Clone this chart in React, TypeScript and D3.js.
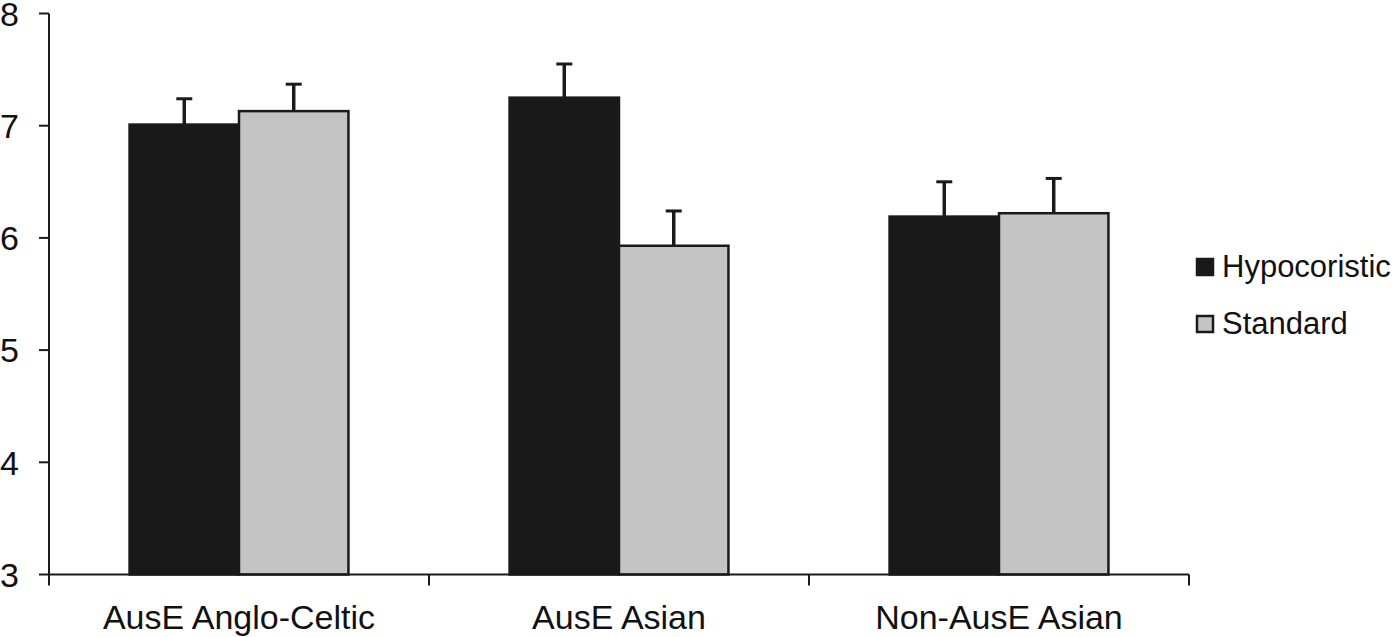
import { scaleBand, scaleLinear } from "d3";

const categories = ["AusE Anglo-Celtic", "AusE Asian", "Non-AusE Asian"];
const seriesNames = ["Hypocoristic", "Standard"];
const hypocoristic = [7.01, 7.25, 6.19];
const hypocoristicErr = [0.23, 0.3, 0.31];
const standard = [7.13, 5.93, 6.22];
const standardErr = [0.24, 0.31, 0.31];
const yTicks = [3, 4, 5, 6, 7, 8];

const fills = ["#191919", "#c4c4c4"];
const ink = "#1a1a1a";
const font = "'Liberation Sans', Arial, Helvetica, sans-serif";

const W = 1396;
const H = 637;

export default function App() {
  const x = scaleBand<string>().domain(categories).range([49, 1189]).paddingInner(0.424).paddingOuter(0.212);
  const sub = scaleBand<string>().domain(seriesNames).range([0, x.bandwidth()]);
  const y = scaleLinear().domain([3, 8]).range([574.5, 13.5]);
  const series = [
    { name: seriesNames[0], values: hypocoristic, errs: hypocoristicErr },
    { name: seriesNames[1], values: standard, errs: standardErr },
  ];
  const step = x.step();
  const bounds = [...categories.map((c) => (x(c) ?? 0) - (step - x.bandwidth()) / 2), 1189];

  return (
    <svg width={W} height={H} style={{ position: "absolute", left: 0, top: 0 }} fontFamily={font}>
      <rect width={W} height={H} fill="#fff" />

      {series.map((s, si) =>
        categories.map((c, ci) => {
          const bx = (x(c) ?? 0) + (sub(s.name) ?? 0);
          const bw = sub.bandwidth();
          const top = y(s.values[ci]);
          const cx = bx + bw / 2;
          const capY = y(s.values[ci] + s.errs[ci]);
          return (
            <g key={`${si}-${ci}`}>
              <line x1={cx} x2={cx} y1={top} y2={capY} stroke={ink} strokeWidth={3.5} />
              <line x1={cx - 8} x2={cx + 8} y1={capY} y2={capY} stroke={ink} strokeWidth={3} />
              <rect
                x={bx}
                y={top}
                width={bw}
                height={y(3) - top}
                fill={fills[si]}
                stroke={ink}
                strokeWidth={2.5}
              />
            </g>
          );
        })
      )}

      {/* y axis */}
      <line x1={49} x2={49} y1={y(8)} y2={y(3)} stroke={ink} strokeWidth={2} />
      {yTicks.map((t) => (
        <g key={t}>
          <line x1={39} x2={49} y1={y(t)} y2={y(t)} stroke={ink} strokeWidth={2} />
          <text x={19} y={y(t)} dy="0.36em" textAnchor="end" fontSize={34} fill="#111">
            {t}
          </text>
        </g>
      ))}

      {/* x axis */}
      <line x1={49} x2={1189} y1={y(3)} y2={y(3)} stroke={ink} strokeWidth={2} />
      {bounds.map((b, i) => (
        <line key={i} x1={b} x2={b} y1={y(3)} y2={y(3) + 11} stroke={ink} strokeWidth={2} />
      ))}
      {categories.map((c) => (
        <text
          key={c}
          x={(x(c) ?? 0) + x.bandwidth() / 2}
          y={629}
          textAnchor="middle"
          fontSize={34}
          fill="#111"
        >
          {c}
        </text>
      ))}

      {/* legend */}
      {series.map((s, si) => (
        <g key={s.name} transform={`translate(1196, ${258 + si * 57})`}>
          <rect x={1} y={1} width={16} height={16} fill={fills[si]} stroke={ink} strokeWidth={2.5} />
          <text x={26} y={19} fontSize={31} fill="#111">
            {s.name}
          </text>
        </g>
      ))}
    </svg>
  );
}
